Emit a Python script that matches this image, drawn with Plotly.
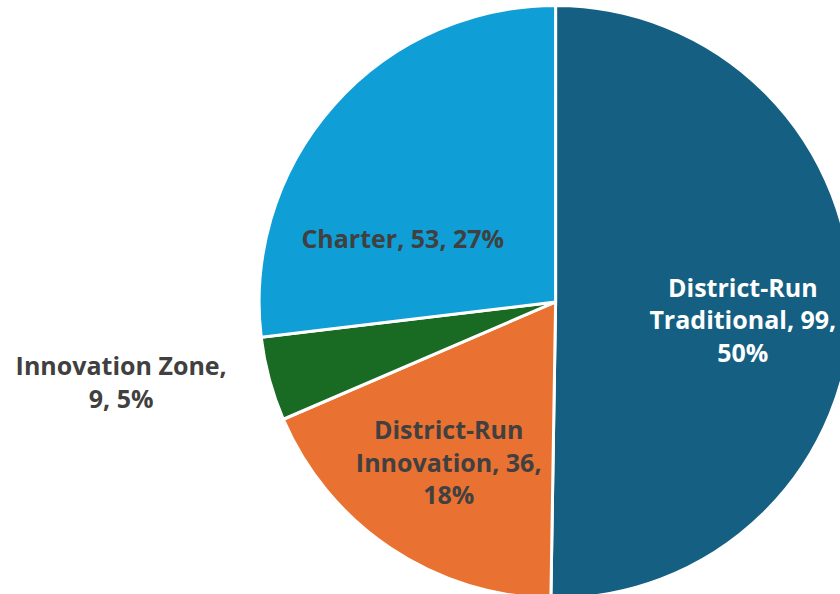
import plotly.graph_objects as go

categories = ["District-Run Traditional", "District-Run Innovation", "Innovation Zone", "Charter"]
values = [99, 36, 9, 53]
colors = ["#156082", "#E97132", "#196B24", "#0F9ED5"]
text_colors = ["#FFFFFF", "#404040", "#404040", "#404040"]
text_positions = ["inside", "inside", "outside", "inside"]

total = sum(values)
pct = [round(100 * v / total) for v in values]

NB = "\u00a0"
pad_trad = NB * 12
pad_zone = NB * 4
pad_charter = NB * 8
texts = [
    f"{NB}<br>{pad_trad}District-Run<br>{pad_trad}Traditional, {values[0]},<br>{pad_trad}{pct[0]}%",
    f"District-Run<br>Innovation, {values[1]},<br>{pct[1]}%",
    f"Innovation Zone,{pad_zone}<br>{values[2]}, {pct[2]}%{pad_zone}",
    f"{NB}<br>{NB}<br>{NB}<br>Charter, {values[3]}, {pct[3]}%{pad_charter}",
]

FONT = "Open Sans, Arial, sans-serif"

fig = go.Figure(
    go.Pie(
        labels=categories,
        values=values,
        text=texts,
        textinfo="text",
        textposition=text_positions,
        insidetextorientation="horizontal",
        sort=False,
        direction="clockwise",
        rotation=0,
        marker=dict(colors=colors, line=dict(color="white", width=3)),
        textfont=dict(family=FONT, size=25, color=text_colors, weight="bold"),
        outsidetextfont=dict(family=FONT, size=25, color="#404040", weight="bold"),
        domain=dict(x=[0.3013, 0.9908], y=[0.0189, 0.991]),
        showlegend=False,
        hoverinfo="label+value+percent",
    )
)

# The figure is slightly larger than the window; the overflow (pie cut at the
# right edge, as in the reference) is clipped by the page.
fig.update_layout(
    width=860,
    height=610,
    margin=dict(l=0, r=0, t=0, b=0),
    paper_bgcolor="white",
    plot_bgcolor="white",
    uniformtext=dict(minsize=25, mode="show"),
)

fig.write_html(
    "out.html",
    config={"displayModeBar": False},
    post_script=(
        "document.documentElement.style.margin='0';"
        "document.body.style.margin='0';"
        "document.documentElement.style.overflow='hidden';"
        "document.body.style.overflow='hidden';"
    ),
)
